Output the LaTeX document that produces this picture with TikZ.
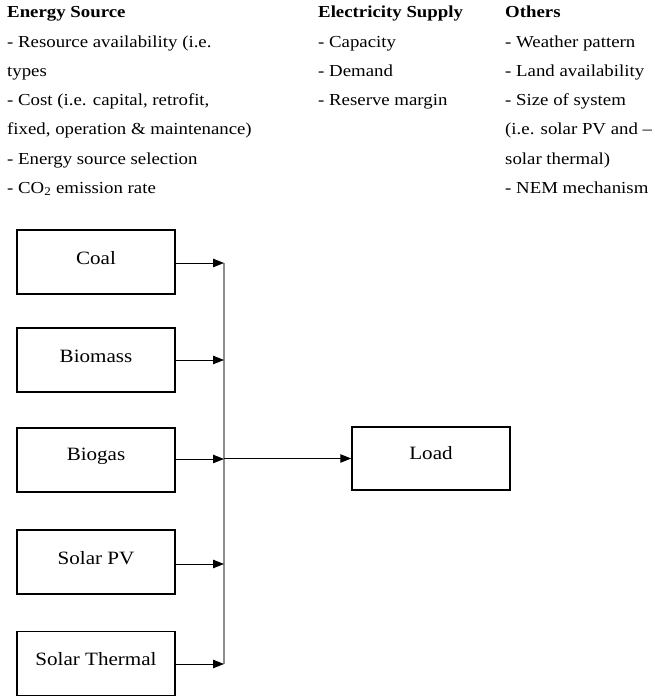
\documentclass[tikz,border=0pt]{standalone}
\usepackage{fontspec}
\setmainfont[FakeStretch=1.12]{Liberation Serif}
\usetikzlibrary{arrows.meta}
\tikzset{
  hd/.style={anchor=base west, inner sep=0pt, font=\fontsize{16.8}{20}\selectfont\bfseries},
  tx/.style={anchor=base west, inner sep=0pt, font=\fontsize{16.8}{20}\selectfont},
  srcbox/.style={draw=black, line width=1.5pt, minimum width=158pt, minimum height=64pt, inner sep=0pt},
  boxtext/.style={inner sep=0pt, font=\fontsize{18.8}{22}\selectfont},
  conn/.style={draw=black, line width=1pt, -{Triangle[length=11pt,width=8.5pt]}},
  busline/.style={draw=black!45, line width=1.4pt}
}
\begin{document}
\begin{tikzpicture}[x=1pt,y=-1pt]
\useasboundingbox (0,0) rectangle (654,698);
% top text columns
\node[hd] (h1) at (7,18) {Energy Source};
\node[tx] (a1) at (7,47.2) {- Resource availability (i.e.};
\node[tx] (a2) at (7,76.4) {types};
\node[tx] (a3) at (7,105.6) {- Cost (i.e. capital, retrofit,};
\node[tx] (a4) at (7,134.8) {fixed, operation \& maintenance)};
\node[tx] (a5) at (7,164) {- Energy source selection};
\node[tx] (a6) at (7,193.2) {- CO\textsubscript{2} emission rate};
\node[hd] (h2) at (318,18) {Electricity Supply};
\node[tx] (b1) at (318,47.2) {- Capacity};
\node[tx] (b2) at (318,76.4) {- Demand};
\node[tx] (b3) at (318,105.6) {- Reserve margin};
\node[hd] (h3) at (505,18) {Others};
\node[tx] (c1) at (505,47.2) {- Weather pattern};
\node[tx] (c2) at (505,76.4) {- Land availability};
\node[tx] (c3) at (505,105.6) {- Size of system};
\node[tx] (c4) at (505,134.8) {(i.e. solar PV and --};
\node[tx] (c5) at (505,164) {solar thermal)};
\node[tx] (c6) at (505,193.2) {- NEM mechanism};
% boxes
\node[srcbox] (coal) at (96,262) {};
\node[srcbox] (biomass) at (96,360) {};
\node[srcbox] (biogas) at (96,460) {};
\node[srcbox] (pv) at (96,562) {};
\node[srcbox] (thermal) at (96,663.5) {};
\node[srcbox, minimum height=63pt] (load) at (431,458.5) {};
\node[boxtext] (coalt) at ([yshift=4pt]coal.center) {Coal};
\node[boxtext] (biomasst) at ([yshift=4pt]biomass.center) {Biomass};
\node[boxtext] (biogast) at ([yshift=4pt]biogas.center) {Biogas};
\node[boxtext] (pvt) at ([yshift=4pt]pv.center) {Solar PV};
\node[boxtext] (thermalt) at ([yshift=4pt]thermal.center) {Solar Thermal};
\node[boxtext] (loadt) at ([yshift=5pt]load.center) {Load};
% bus
\coordinate (bustop) at (224,263);
\coordinate (busbot) at (224,664);
\draw[busline] (bustop) -- (busbot);
\draw[conn] ([yshift=-1pt]coal.east) -- ([yshift=-1pt]coal.east -| bustop);
\draw[conn] (biomass.east) -- (biomass.east -| bustop);
\draw[conn] ([yshift=1pt]biogas.east) -- ([yshift=1pt]biogas.east -| bustop);
\draw[conn] ([yshift=-2pt]pv.east) -- ([yshift=-2pt]pv.east -| bustop);
\draw[conn] ([yshift=-0.5pt]thermal.east) -- ([yshift=-0.5pt]thermal.east -| bustop);
\draw[conn] (load.west -| bustop) -- (load.west);
\end{tikzpicture}
\end{document}
